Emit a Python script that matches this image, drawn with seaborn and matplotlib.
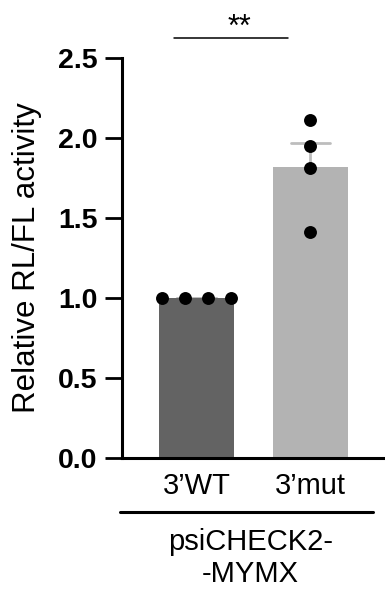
import numpy as np
import pandas as pd
import matplotlib
matplotlib.use("Agg")
import matplotlib.pyplot as plt
import seaborn as sns

# ---- data ----
categories = ["3\u2019WT", "3\u2019mut"]
wt_values = [1.0, 1.0, 1.0, 1.0]
mut_values = [2.11, 1.95, 1.81, 1.41]
bar_colors = ["#636363", "#b3b3b3"]
ytick_values = [0.0, 0.5, 1.0, 1.5, 2.0, 2.5]
ytick_labels = ["0.0", "0.5", "1.0", "1.5", "2.0", "2.5"]
ylabel = "Relative RL/FL activity"
group_label = "psiCHECK2-\n-MYMX"
sig_label = "**"

df = pd.DataFrame({
    "group": [categories[0]] * len(wt_values) + [categories[1]] * len(mut_values),
    "value": wt_values + mut_values,
    "rep": list(range(len(wt_values))) + list(range(len(mut_values))),
})

sns.set_style("ticks")
plt.rcParams["font.family"] = ["Liberation Sans", "DejaVu Sans"]
for key in ["text.color", "axes.labelcolor", "xtick.color", "ytick.color",
            "axes.edgecolor"]:
    plt.rcParams[key] = "black"

fig = plt.figure(figsize=(3.85, 5.90), dpi=100)
ax = fig.add_axes([122 / 385, 132 / 590, 263 / 385, 400 / 590])

sns.barplot(data=df, x="group", y="value", order=categories, hue="group",
            hue_order=categories, palette=dict(zip(categories, bar_colors)),
            errorbar="se", capsize=0.34, width=0.66, saturation=1,
            linewidth=0, legend=False,
            err_kws={"color": "#bdbdbd", "linewidth": 2.0}, ax=ax)
# error bars behind the bars so only the upper half shows
for ln in ax.lines:
    ln.set_zorder(0.5)

wt_df = df[df["group"] == categories[0]]
mut_df = df[df["group"] == categories[1]]
sns.stripplot(data=wt_df, x="group", y="value", order=categories, hue="rep",
              palette=["black"] * len(wt_values), dodge=True, jitter=False,
              size=9.3, linewidth=0, legend=False, zorder=3, ax=ax)
sns.stripplot(data=mut_df, x="group", y="value", order=categories,
              color="black", jitter=False, size=9.3, linewidth=0,
              zorder=3, ax=ax)

ax.set_xlim(-0.654, 1.654)
ax.set_ylim(0, 2.5)
ax.set_yticks(ytick_values)
ax.set_yticklabels(ytick_labels, fontsize=20.5, fontweight="bold")
ax.set_xticks(range(len(categories)))
ax.set_xticklabels(categories, fontsize=21)
ax.set_xlabel("")
ax.set_ylabel(ylabel, fontsize=22.5, va="center")
ax.yaxis.set_label_coords(-0.361, 0.5)

for side in ["top", "right"]:
    ax.spines[side].set_visible(False)
for side in ["left", "bottom"]:
    ax.spines[side].set_linewidth(2.2)
ax.tick_params(axis="y", length=12.2, width=2.0, pad=5.5, color="black")
ax.tick_params(axis="x", length=0, pad=10)

# group bracket line and label under the x tick labels
ax.plot([-0.0076, 0.954], [-0.135, -0.135], transform=ax.transAxes,
        color="black", linewidth=2.2, clip_on=False)
ax.text(0.487, -0.175, group_label, transform=ax.transAxes, ha="center",
        va="top", fontsize=21, linespacing=1.2)

# significance annotation
ax.plot([-0.197, 0.803], [2.625, 2.625], color="black", linewidth=1.1,
        clip_on=False)
ax.text(0.38, 2.64, sig_label, ha="center", va="baseline", fontsize=22)

fig.savefig("out.png", dpi=100)
